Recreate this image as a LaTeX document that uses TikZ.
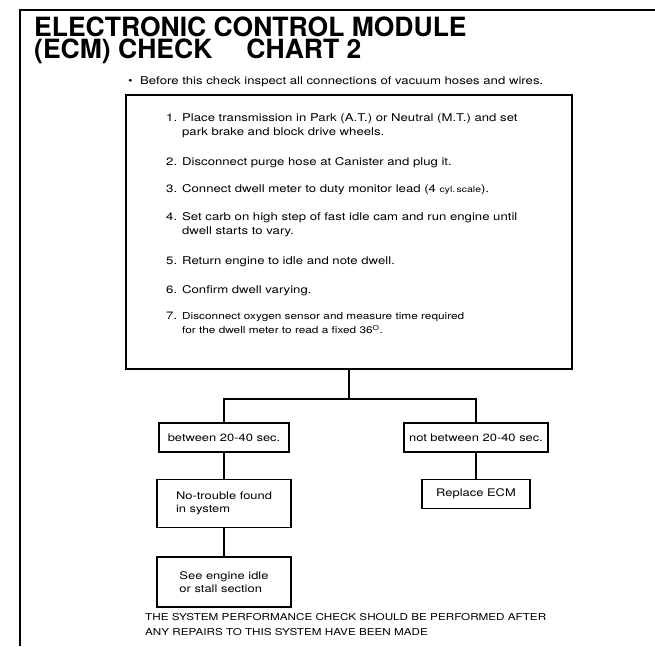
\documentclass[tikz,border=0pt]{standalone}
\usepackage{fontspec}
\usepackage{tikz}
\usetikzlibrary{positioning, calc}
\newfontfamily\bodyfont[FakeStretch=1.23]{TeX Gyre Heros}
\newfontfamily\titlefont{TeX Gyre Heros}
\begin{document}
\begin{tikzpicture}[
  x=1pt, y=-1pt,
  every node/.style={font=\bodyfont\fontsize{10.5}{13}\selectfont, inner sep=0pt},
  heading/.style={anchor=north west, text height=19pt, text depth=0pt, font=\titlefont\bfseries\fontsize{26.5}{26.5}\selectfont},
  stepbox/.style={rectangle, draw, line width=1.8pt, minimum width=446pt, minimum height=274pt},
  result/.style={rectangle, draw, line width=1.6pt, align=left, minimum height=29pt},
  wire/.style={line width=1.6pt},
]
\useasboundingbox (0,0) rectangle (655,646);
\draw[line width=2.4pt] (20,646) -- (20,10) -- (655,10);
\node[heading] (title1) at (34,17) {ELECTRONIC CONTROL MODULE};
\node[heading] (title2) at (34,39) {(ECM) CHECK\hspace{34pt}CHART 2};
\node[anchor=west, font=\bodyfont\fontsize{10.7}{14}\selectfont] (note) at (128,82) {\textbullet\ \ Before this check inspect all connections of vacuum hoses and wires.};
\node[stepbox, anchor=north west] (steps) at (125,94) {};
\node[anchor=north west, align=left, font=\bodyfont\fontsize{10.7}{14.5}\selectfont] (list) at (166,111) {%
  \begin{tabular}{@{}l@{\hspace{5pt}}l@{}}
  1. & Place transmission in Park (A.T.) or Neutral (M.T.) and set\\
     & park brake and block drive wheels.\\[15pt]
  2. & Disconnect purge hose at Canister and plug it.\\[13pt]
  3. & Connect dwell meter to duty monitor lead (4 {\fontsize{8.5}{10}\selectfont cyl.\,scale}).\\[13pt]
  4. & Set carb on high step of fast idle cam and run engine until\\
     & dwell starts to vary.\\[15pt]
  5. & Return engine to idle and note dwell.\\[15pt]
  6. & Confirm dwell varying.\\[11pt]
  7. & {\fontsize{9.6}{13}\selectfont Disconnect oxygen sensor and measure time required}\\
     & {\fontsize{9.6}{13}\selectfont for the dwell meter to read a fixed 36\textsuperscript{O}.}
  \end{tabular}};
\node[result, minimum width=130pt] (ok) at (224,437.5) {between 20-40 sec.};
\node[result, minimum width=144pt] (notok) at (476,437.5) {not between 20-40 sec.};
\node[result, minimum width=134pt, minimum height=48pt, below=26pt of ok] (notrouble) {No-trouble found\\in system};
\node[result, minimum width=134pt, minimum height=50pt, below=28pt of notrouble] (seeidle) {See engine idle\\or stall section};
\node[result, minimum width=108pt, below=26pt of notok] (replace) {Replace ECM};
\coordinate (fork) at ($(steps.south)+(0,29)$);
\draw[wire] (steps.south) -- (fork);
\draw[wire] (ok.north) |- (fork) -| (notok.north);
\draw[wire] (ok) -- (notrouble);
\draw[wire] (notrouble) -- (seeidle);
\draw[wire] (notok) -- (replace);
\node[anchor=north west, align=left, font=\bodyfont\fontsize{9.5}{15}\selectfont] (footer) at (145,613) {THE SYSTEM PERFORMANCE CHECK SHOULD BE PERFORMED AFTER\\ANY REPAIRS TO THIS SYSTEM HAVE BEEN MADE};
\end{tikzpicture}
\end{document}
